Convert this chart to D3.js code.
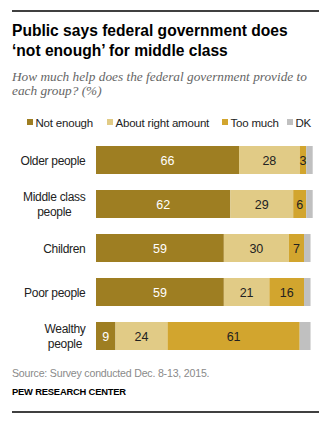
<!DOCTYPE html>
<html>
<head>
<meta charset="utf-8">
<script src="https://cdn.jsdelivr.net/npm/d3@7"></script>
<style>
  body { margin: 0; background: #fff; }
  svg text { font-family: "Liberation Sans", Arial, sans-serif; }
</style>
</head>
<body>
<svg id="chart" width="332" height="428"></svg>
<script>
// data
const groups = ["Older people", "Middle class people", "Children", "Poor people", "Wealthy people"];
const groupLines = [["Older people"], ["Middle class", "people"], ["Children"], ["Poor people"], ["Wealthy", "people"]];
const seriesNames = ["Not enough", "About right amount", "Too much", "DK"];
const notEnough = [66, 62, 59, 59, 9];
const aboutRight = [28, 29, 30, 21, 24];
const tooMuch = [3, 6, 7, 16, 61];
const dk = [3, 3, 3, 3, 5];
const colors = ["#9e7e22", "#e1cb86", "#d2a52e", "#c0c0c0"];
const labelColors = ["#fff", "#222", "#222", "none"];

const svg = d3.select("#chart");

// rules top and bottom
svg.append("line").attr("x1", 12).attr("x2", 319).attr("y1", 11).attr("y2", 11)
  .attr("stroke", "#000").attr("stroke-width", 1.3);
svg.append("line").attr("x1", 12).attr("x2", 319).attr("y1", 412).attr("y2", 412)
  .attr("stroke", "#000").attr("stroke-width", 1.3);

// title + subtitle
const title = ["Public says federal government does", "\u2018not enough\u2019 for middle class"];
svg.selectAll(".title").data(title).enter().append("text")
  .attr("x", 12).attr("y", (d, i) => 36 + i * 20)
  .attr("font-size", 15.6).attr("font-weight", "bold").attr("fill", "#000")
  .text(d => d);

const sub = ["How much help does the federal government provide to", "each group? (%)"];
svg.selectAll(".sub").data(sub).enter().append("text")
  .attr("x", 12).attr("y", (d, i) => 81 + i * 14)
  .style("font-family", "'Liberation Serif', Georgia, serif")
  .attr("font-style", "italic").attr("font-size", 13.3).attr("fill", "#666")
  .text(d => d);

// legend
const legendX = [27, 107, 222, 287];
const leg = svg.append("g");
seriesNames.forEach((name, i) => {
  leg.append("rect").attr("x", legendX[i]).attr("y", 119).attr("width", 6).attr("height", 6)
    .attr("fill", colors[i]);
  leg.append("text").attr("x", legendX[i] + 8.5).attr("y", 126.5)
    .attr("font-size", 11.5).attr("letter-spacing", -0.2).attr("fill", "#222").text(name);
});

// scales
const x = d3.scaleLinear().domain([0, 100]).range([96, 312.7]);
const y = d3.scaleBand().domain(groups).range([146, 350]).paddingInner(16 / 44).paddingOuter(0);

const rows = groups.map((g, i) => ({ group: g, values: [notEnough[i], aboutRight[i], tooMuch[i], dk[i]] }));
const stacked = rows.map(r => {
  let acc = 0;
  return r.values.map((v, k) => { const s = { group: r.group, k, v, x0: acc, x1: acc + v }; acc += v; return s; });
});

const bars = svg.append("g");
stacked.forEach(segs => {
  const g = bars.append("g");
  g.selectAll("rect").data(segs).enter().append("rect")
    .attr("x", d => x(d.x0))
    .attr("y", d => y(d.group))
    .attr("width", d => x(d.x1) - x(d.x0))
    .attr("height", y.bandwidth())
    .attr("fill", d => colors[d.k]);
  g.selectAll("text").data(segs.filter(d => d.k < 3)).enter().append("text")
    .attr("x", d => (x(d.x0) + x(d.x1)) / 2)
    .attr("y", d => y(d.group) + y.bandwidth() / 2 + 4.5)
    .attr("text-anchor", "middle").attr("font-size", 12.5)
    .attr("fill", d => labelColors[d.k])
    .text(d => d.v);
});

// category labels (block right-aligned, lines centered)
groups.forEach((g, i) => {
  const lines = groupLines[i];
  const t = svg.append("text").attr("font-size", 12).attr("letter-spacing", -0.3)
    .attr("fill", "#222").attr("text-anchor", "middle");
  const cy = y(g) + y.bandwidth() / 2;
  const spans = lines.map((l, j) => t.append("tspan").text(l)
    .attr("y", cy + 4.5 + (j - (lines.length - 1) / 2) * 14.5));
  const maxW = d3.max(spans, s => s.node().getComputedTextLength());
  spans.forEach(s => s.attr("x", 85.5 - maxW / 2));
});

// footer
svg.append("text").attr("x", 12).attr("y", 376.5).attr("font-size", 10.6).attr("letter-spacing", -0.2)
  .attr("fill", "#8a8a8a").text("Source: Survey conducted Dec. 8-13, 2015.");
svg.append("text").attr("x", 12).attr("y", 395).attr("font-size", 9.4).attr("font-weight", "bold")
  .attr("letter-spacing", -0.2).attr("fill", "#000").text("PEW RESEARCH CENTER");
</script>
</body>
</html>
